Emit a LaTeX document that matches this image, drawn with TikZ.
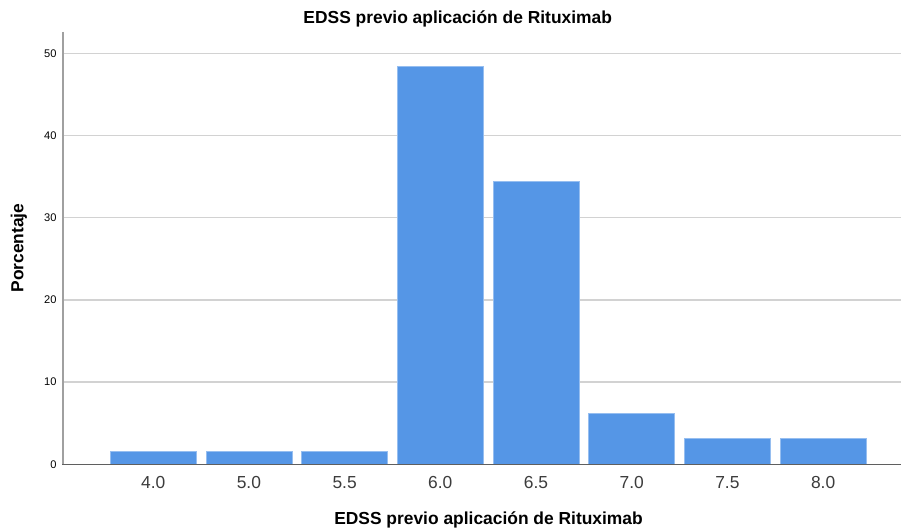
\documentclass[tikz,border=0pt]{standalone}
\usepackage{fontspec}
\setmainfont{Liberation Sans}
\definecolor{barblue}{RGB}{85,150,230}
\definecolor{baredge}{RGB}{150,190,240}
\definecolor{gridgray}{RGB}{210,210,210}
\definecolor{axisgray}{RGB}{95,95,95}
\definecolor{yaxisgray}{RGB}{160,160,160}
\definecolor{ticktext}{RGB}{60,60,60}
\begin{document}
\begin{tikzpicture}[x=1pt,y=-1pt,
  bar/.style={fill=barblue, draw=baredge, line width=0.7pt},
  gridline/.style={draw=gridgray, line width=1.5pt},
  axisline/.style={draw=axisgray, line width=1.3pt},
  yaxisline/.style={draw=yaxisgray, line width=1.3pt},
  ylab/.style={anchor=east, inner sep=0pt, font=\fontsize{11.1}{13}\selectfont, text=black},
  xlab/.style={anchor=center, inner sep=0pt, font=\fontsize{17.4}{20}\selectfont, text=ticktext},
  ttl/.style={anchor=center, inner sep=0pt, font=\fontsize{17.4}{20}\selectfont\bfseries, text=black}]
\useasboundingbox (0,0) rectangle (901,529);
\fill[white] (0,0) rectangle (901,529);
% gridlines
\foreach \v in {10,20,30,40,50}{
  \draw[gridline] (63,{464.3-8.22*\v}) -- (901,{464.3-8.22*\v});
  \node[ylab] (y\v) at (56.7,{464.3-8.22*\v}) {\v};
}
\node[ylab] (y0) at (56.7,464.3) {0};
% bars
\foreach \k/\lab/\val in {0/4.0/1.5625, 1/5.0/1.5625, 2/5.5/1.5625, 3/6.0/48.4375, 4/6.5/34.375, 5/7.0/6.25, 6/7.5/3.125, 7/8.0/3.125}{
  \draw[bar] ({153.2+95.7*\k-43},464.3) rectangle ({153.2+95.7*\k+43},{464.3-8.22*\val});
  \node[xlab] (x\k) at ({153.2+95.7*\k},483) {\lab};
}
% axes
\draw[yaxisline] (63,32) -- (63,464.3);
\draw[axisline] (62.4,464.3) -- (901,464.3);
% titles
\node[ttl] (title) at (457.7,18.5) {EDSS previo aplicación de Rituximab};
\node[ttl] (xtitle) at (488.5,519.5) {EDSS previo aplicación de Rituximab};
\node[ttl, rotate=90] (ytitle) at (19,248) {Porcentaje};
\end{tikzpicture}
\end{document}
